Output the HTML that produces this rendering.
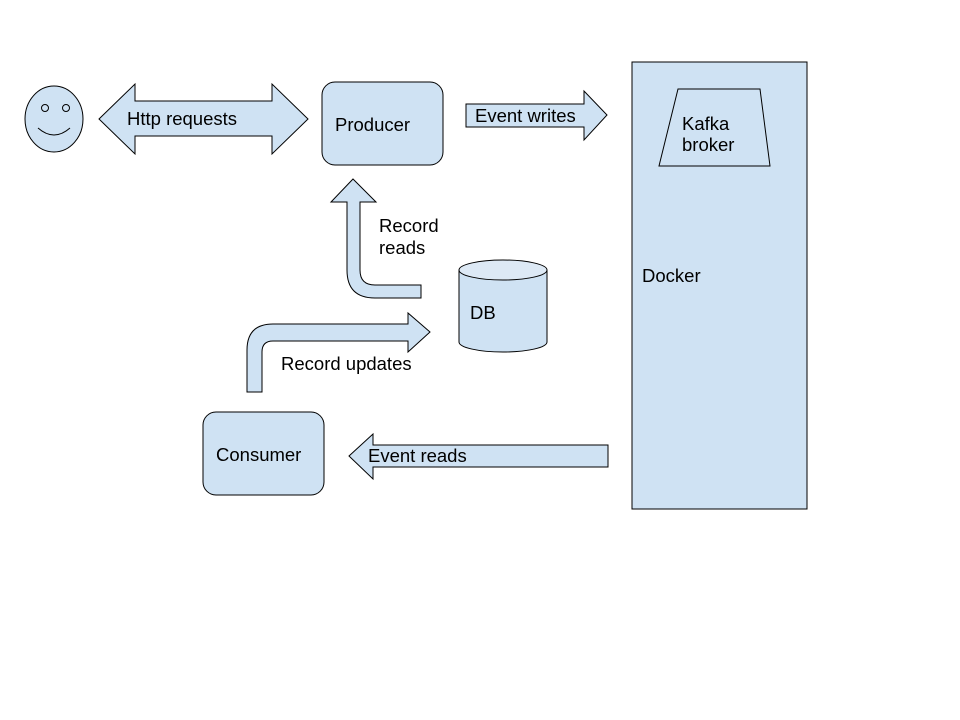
<!DOCTYPE html>
<html><head><meta charset="utf-8"><style>
html,body{margin:0;padding:0;background:#fff;}
svg{display:block;}
text{font-family:"Liberation Sans",Arial,sans-serif;font-size:18.5px;fill:#000;}
</style></head><body>
<svg width="960" height="720" viewBox="0 0 960 720" xmlns="http://www.w3.org/2000/svg">
<g fill="#cfe2f3" stroke="#000" stroke-width="1">
<ellipse cx="54" cy="119" rx="29" ry="33"/>
<circle cx="45" cy="108" r="3.5"/>
<circle cx="66" cy="108" r="3.5"/>
<path d="M38 128 Q54 142 70 128" fill="none"/>
<path d="M99 119 L135 84 L135 101 L272 101 L272 84 L308 119 L272 154 L272 136 L135 136 L135 154 Z"/>
<rect x="322" y="82" width="121" height="83" rx="13"/>
<path d="M466 104 L584 104 L584 91 L607 115 L584 140 L584 127 L466 127 Z"/>
<rect x="632" y="62" width="175" height="447"/>
<path d="M678 89 L760 89 L770 166 L659 166 Z"/>
<path d="M353 179 L376 202 L360 202 L360 270 Q360 285 375 285 L421 285 L421 298 L375 298 Q347 298 347 270 L347 202 L331 202 Z"/>
<path d="M459 270 L459 342 A44 10 0 0 0 547 342 L547 270"/>
<ellipse cx="503" cy="270" rx="44" ry="10" fill="#dde9f5"/>
<path d="M247 392 L247 350 Q247 324 273 324 L408 324 L408 313 L430 332 L408 352 L408 341 L273 341 Q262 341 262 352 L262 392 Z"/>
<rect x="203" y="412" width="121" height="83" rx="13"/>
<path d="M349 456 L373 434 L373 445 L608 445 L608 467 L373 467 L373 479 Z"/>
</g>
<text x="127" y="125">Http requests</text>
<text x="335" y="131">Producer</text>
<text x="475" y="122">Event writes</text>
<text x="682" y="130">Kafka</text>
<text x="682" y="151">broker</text>
<text x="379" y="232">Record</text>
<text x="379" y="254">reads</text>
<text x="642" y="282">Docker</text>
<text x="470" y="319">DB</text>
<text x="281" y="370">Record updates</text>
<text x="216" y="461">Consumer</text>
<text x="368" y="462">Event reads</text>
</svg>
</body></html>
